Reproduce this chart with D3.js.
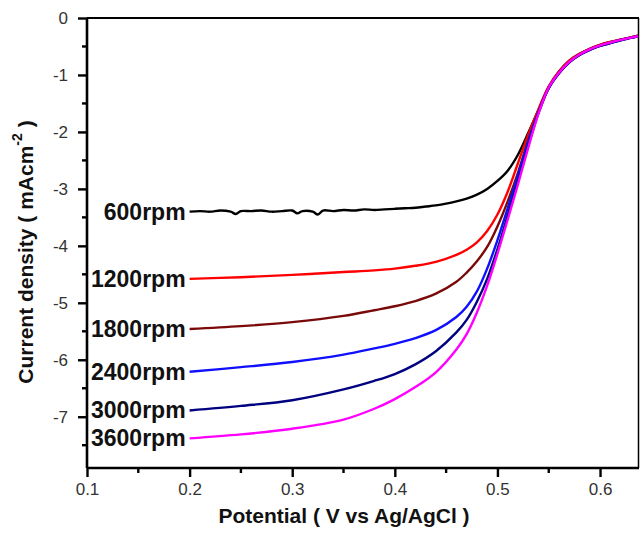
<!DOCTYPE html>
<html>
<head>
<meta charset="utf-8">
<script src="https://cdn.jsdelivr.net/npm/d3@7"></script>
<style>
  html, body { margin: 0; padding: 0; background: #fff; }
  svg { display: block; font-family: "Liberation Sans", Arial, sans-serif; }
</style>
</head>
<body>
<svg id="chart" width="642" height="535"></svg>
<script>
// ---- data ----
const potential = [0.20,0.25,0.30,0.35,0.38,0.40,0.42,0.44,0.46,0.47,0.48,0.49,0.50,0.51,0.52,0.53,0.54,0.55,0.56,0.57,0.58,0.59,0.60,0.61,0.62,0.63,0.637];
const rpm1200 = [-4.58,-4.55,-4.51,-4.46,-4.43,-4.40,-4.35,-4.28,-4.16,-4.07,-3.94,-3.74,-3.45,-3.05,-2.55,-2.05,-1.60,-1.20,-0.94,-0.75,-0.63,-0.54,-0.47,-0.42,-0.38,-0.34,-0.31];
const rpm1800 = [-5.46,-5.41,-5.34,-5.23,-5.13,-5.06,-4.97,-4.84,-4.63,-4.47,-4.27,-4.02,-3.66,-3.22,-2.72,-2.15,-1.65,-1.22,-0.96,-0.77,-0.64,-0.55,-0.48,-0.43,-0.385,-0.345,-0.32];
const rpm2400 = [-6.21,-6.13,-6.04,-5.91,-5.80,-5.72,-5.62,-5.48,-5.25,-5.07,-4.80,-4.40,-3.90,-3.34,-2.76,-2.17,-1.65,-1.23,-0.97,-0.78,-0.65,-0.56,-0.49,-0.44,-0.39,-0.35,-0.32];
const rpm3000 = [-6.89,-6.81,-6.71,-6.52,-6.37,-6.25,-6.08,-5.85,-5.52,-5.30,-4.98,-4.58,-4.06,-3.47,-2.86,-2.24,-1.67,-1.23,-0.97,-0.78,-0.65,-0.56,-0.49,-0.44,-0.39,-0.35,-0.32];
const rpm3600 = [-7.38,-7.31,-7.21,-7.05,-6.86,-6.69,-6.48,-6.22,-5.82,-5.55,-5.17,-4.70,-4.14,-3.54,-2.92,-2.28,-1.68,-1.22,-0.96,-0.77,-0.64,-0.55,-0.48,-0.43,-0.385,-0.345,-0.32];
const potential600 = [0.20,0.21,0.22,0.23,0.24,0.245,0.25,0.26,0.27,0.28,0.29,0.30,0.305,0.31,0.32,0.325,0.33,0.34,0.35,0.36,0.37,0.38,0.39,0.40,0.41,0.42,0.43,0.44,0.45,0.46,0.47,0.48,0.49,0.50,0.51,0.52,0.53,0.54,0.55,0.56,0.57,0.58,0.59,0.60,0.61,0.62,0.63,0.637];
const rpm600 = [-3.40,-3.39,-3.40,-3.38,-3.40,-3.44,-3.39,-3.39,-3.38,-3.40,-3.39,-3.38,-3.43,-3.39,-3.40,-3.45,-3.38,-3.39,-3.37,-3.38,-3.36,-3.37,-3.36,-3.35,-3.34,-3.33,-3.31,-3.29,-3.26,-3.22,-3.17,-3.10,-3.00,-2.86,-2.68,-2.40,-2.02,-1.62,-1.21,-0.94,-0.75,-0.63,-0.54,-0.47,-0.42,-0.38,-0.34,-0.31];
const seriesLabels = ["600rpm","1200rpm","1800rpm","2400rpm","3000rpm","3600rpm"];
const seriesColors = ["#000000","#ff0000","#7a0a0a","#1010ff","#000080","#ff00ff"];
const xTicks = [0.1,0.2,0.3,0.4,0.5,0.6];
const xMinorTicks = [0.15,0.25,0.35,0.45,0.55];
const yTicks = [0,-1,-2,-3,-4,-5,-6,-7];
const yMinorTicks = [-0.5,-1.5,-2.5,-3.5,-4.5,-5.5,-6.5,-7.5];
const xTitle = "Potential ( V vs Ag/AgCl )";

// ---- layout ----
const svg = d3.select("#chart");
const L = 87, R = 638, T = 18, B = 468;
const x = d3.scaleLinear().domain([0.1, 0.637]).range([L, R]);
const y = d3.scaleLinear().domain([0, -7.9]).range([T, B]);

const series = [
  {xs: potential600, ys: rpm600},
  {xs: potential, ys: rpm1200},
  {xs: potential, ys: rpm1800},
  {xs: potential, ys: rpm2400},
  {xs: potential, ys: rpm3000},
  {xs: potential, ys: rpm3600}
];

// frame (top + right)
svg.append("line").attr("x1", L).attr("x2", R + 1).attr("y1", T).attr("y2", T)
  .attr("stroke", "#000").attr("stroke-width", 2.2);
svg.append("line").attr("x1", R + 0.5).attr("x2", R + 0.5).attr("y1", T).attr("y2", B)
  .attr("stroke", "#000").attr("stroke-width", 1.5);

// curves
const line = d3.line().x(d => x(d[0])).y(d => y(d[1])).curve(d3.curveCatmullRom.alpha(0.5));
series.forEach((s, i) => {
  const pts = s.xs.map((v, k) => [v, s.ys[k]]);
  svg.append("path").datum(pts)
    .attr("d", line)
    .attr("fill", "none")
    .attr("stroke", seriesColors[i])
    .attr("stroke-width", 2.4)
    .attr("stroke-linejoin", "round");
  svg.append("text")
    .attr("x", x(s.xs[0]) - 4)
    .attr("y", y(s.ys[0]))
    .attr("text-anchor", "end")
    .attr("dominant-baseline", "central")
    .attr("font-weight", "bold")
    .attr("font-size", 23)
    .attr("fill", "#111")
    .text(seriesLabels[i]);
});

// axes
const xAxis = d3.axisBottom(x).tickValues(xTicks).tickFormat(d3.format(".1f")).tickSize(9).tickPadding(6);
const gx = svg.append("g").attr("transform", `translate(0,${B})`).call(xAxis);
const yAxis = d3.axisLeft(y).tickValues(yTicks).tickFormat(d => String(d)).tickSize(9).tickPadding(10);
const gy = svg.append("g").attr("transform", `translate(${L},0)`).call(yAxis);
[gx, gy].forEach(g => {
  g.select(".domain").attr("stroke", "#000").attr("stroke-width", 2.6);
  g.selectAll(".tick line").attr("stroke", "#000").attr("stroke-width", 2.4);
  g.selectAll(".tick text").attr("font-size", 17).attr("fill", "#333")
    .attr("font-family", "'Liberation Sans', Arial, sans-serif");
});
gx.select(".domain").attr("d", `M${L},0H${R + 1}`);
gy.select(".domain").attr("d", `M0,${T}V${B}`);

// minor ticks
svg.append("g").selectAll("line").data(xMinorTicks).join("line")
  .attr("x1", d => x(d)).attr("x2", d => x(d)).attr("y1", B).attr("y2", B + 5)
  .attr("stroke", "#000").attr("stroke-width", 2.4);
svg.append("g").selectAll("line").data(yMinorTicks).join("line")
  .attr("y1", d => y(d)).attr("y2", d => y(d)).attr("x1", L).attr("x2", L - 5)
  .attr("stroke", "#000").attr("stroke-width", 2.4);

// axis titles
svg.append("text")
  .attr("x", 344).attr("y", 523)
  .attr("text-anchor", "middle")
  .attr("font-weight", "bold").attr("font-size", 21).attr("fill", "#111")
  .text(xTitle);

const yt = svg.append("text")
  .attr("transform", "translate(25,252) rotate(-90)")
  .attr("text-anchor", "middle")
  .attr("dominant-baseline", "central")
  .attr("font-weight", "bold").attr("font-size", 21).attr("fill", "#111");
yt.append("tspan").text("Current density ( mAcm");
yt.append("tspan").attr("font-size", 14).attr("dy", -8).text("-2");
yt.append("tspan").attr("dy", 8).text(" )");
</script>
</body>
</html>
